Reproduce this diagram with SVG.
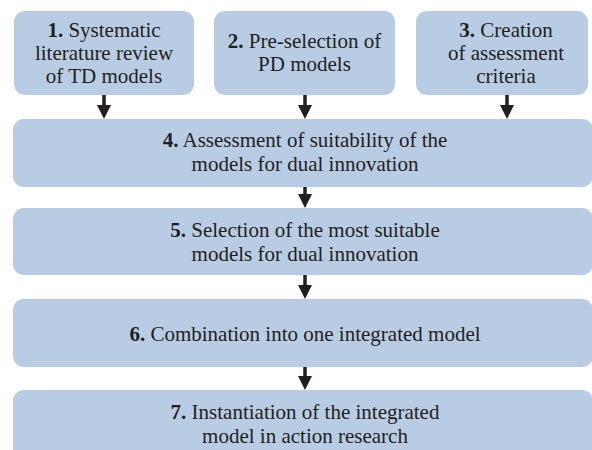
<svg xmlns="http://www.w3.org/2000/svg" width="592" height="450" viewBox="0 0 592 450">
  <style>
    .box { fill: #b8cce4; }
    .arr { stroke: #231f20; stroke-width: 3.5; fill: none; marker-end: url(#ah); }
  </style>
  <defs>
    <marker id="ah" markerUnits="userSpaceOnUse" markerWidth="14" markerHeight="14" refX="6" refY="7" orient="auto">
      <path d="M0,0 L14,7 L0,14 z" fill="#231f20"/>
    </marker>
  </defs>
  <rect width="592" height="450" fill="#ffffff"/>
  <g id="n1">
    <rect class="box" x="14" y="11" width="180" height="84" rx="11"/>
    <text font-family="Liberation Serif, serif" font-size="21" fill="#231f20" text-anchor="middle" x="104" y="37"><tspan font-weight="bold">1.</tspan> Systematic</text>
    <text font-family="Liberation Serif, serif" font-size="21" fill="#231f20" text-anchor="middle" x="104" y="60">literature review</text>
    <text font-family="Liberation Serif, serif" font-size="21" fill="#231f20" text-anchor="middle" x="104" y="83">of TD models</text>
  </g>
  <g id="n2">
    <rect class="box" x="214" y="11" width="181" height="84" rx="11"/>
    <text font-family="Liberation Serif, serif" font-size="21" fill="#231f20" text-anchor="middle" x="304.5" y="48"><tspan font-weight="bold">2.</tspan> Pre-selection of</text>
    <text font-family="Liberation Serif, serif" font-size="21" fill="#231f20" text-anchor="middle" x="304.5" y="71">PD models</text>
  </g>
  <g id="n3">
    <rect class="box" x="416" y="11" width="172" height="84" rx="11"/>
    <text font-family="Liberation Serif, serif" font-size="21" fill="#231f20" text-anchor="middle" x="506" y="37"><tspan font-weight="bold">3.</tspan> Creation</text>
    <text font-family="Liberation Serif, serif" font-size="21" fill="#231f20" text-anchor="middle" x="506" y="60">of assessment</text>
    <text font-family="Liberation Serif, serif" font-size="21" fill="#231f20" text-anchor="middle" x="506" y="83">criteria</text>
  </g>
  <g id="n4">
    <rect class="box" x="13" y="119" width="580" height="68" rx="11"/>
    <text font-family="Liberation Serif, serif" font-size="21" fill="#231f20" text-anchor="middle" x="305" y="147"><tspan font-weight="bold">4.</tspan> Assessment of suitability of the</text>
    <text font-family="Liberation Serif, serif" font-size="21" fill="#231f20" text-anchor="middle" x="305" y="171">models for dual innovation</text>
  </g>
  <g id="n5">
    <rect class="box" x="13" y="208" width="580" height="67" rx="11"/>
    <text font-family="Liberation Serif, serif" font-size="21" fill="#231f20" text-anchor="middle" x="305" y="237"><tspan font-weight="bold">5.</tspan> Selection of the most suitable</text>
    <text font-family="Liberation Serif, serif" font-size="21" fill="#231f20" text-anchor="middle" x="305" y="261">models for dual innovation</text>
  </g>
  <g id="n6">
    <rect class="box" x="13" y="299" width="580" height="68" rx="11"/>
    <text font-family="Liberation Serif, serif" font-size="21" fill="#231f20" text-anchor="middle" x="305" y="341"><tspan font-weight="bold">6.</tspan> Combination into one integrated model</text>
  </g>
  <g id="n7">
    <rect class="box" x="13" y="390" width="580" height="75" rx="11"/>
    <text font-family="Liberation Serif, serif" font-size="21" fill="#231f20" text-anchor="middle" x="305" y="419"><tspan font-weight="bold">7.</tspan> Instantiation of the integrated</text>
    <text font-family="Liberation Serif, serif" font-size="21" fill="#231f20" text-anchor="middle" x="305" y="443">model in action research</text>
  </g>
  <g id="connectors">
    <line class="arr" x1="104" y1="95" x2="104" y2="111"/>
    <line class="arr" x1="305" y1="95" x2="305" y2="111"/>
    <line class="arr" x1="507" y1="95" x2="507" y2="111"/>
    <line class="arr" x1="305" y1="187" x2="305" y2="200"/>
    <line class="arr" x1="305" y1="275" x2="305" y2="291"/>
    <line class="arr" x1="305" y1="367" x2="305" y2="382"/>
  </g>
</svg>
